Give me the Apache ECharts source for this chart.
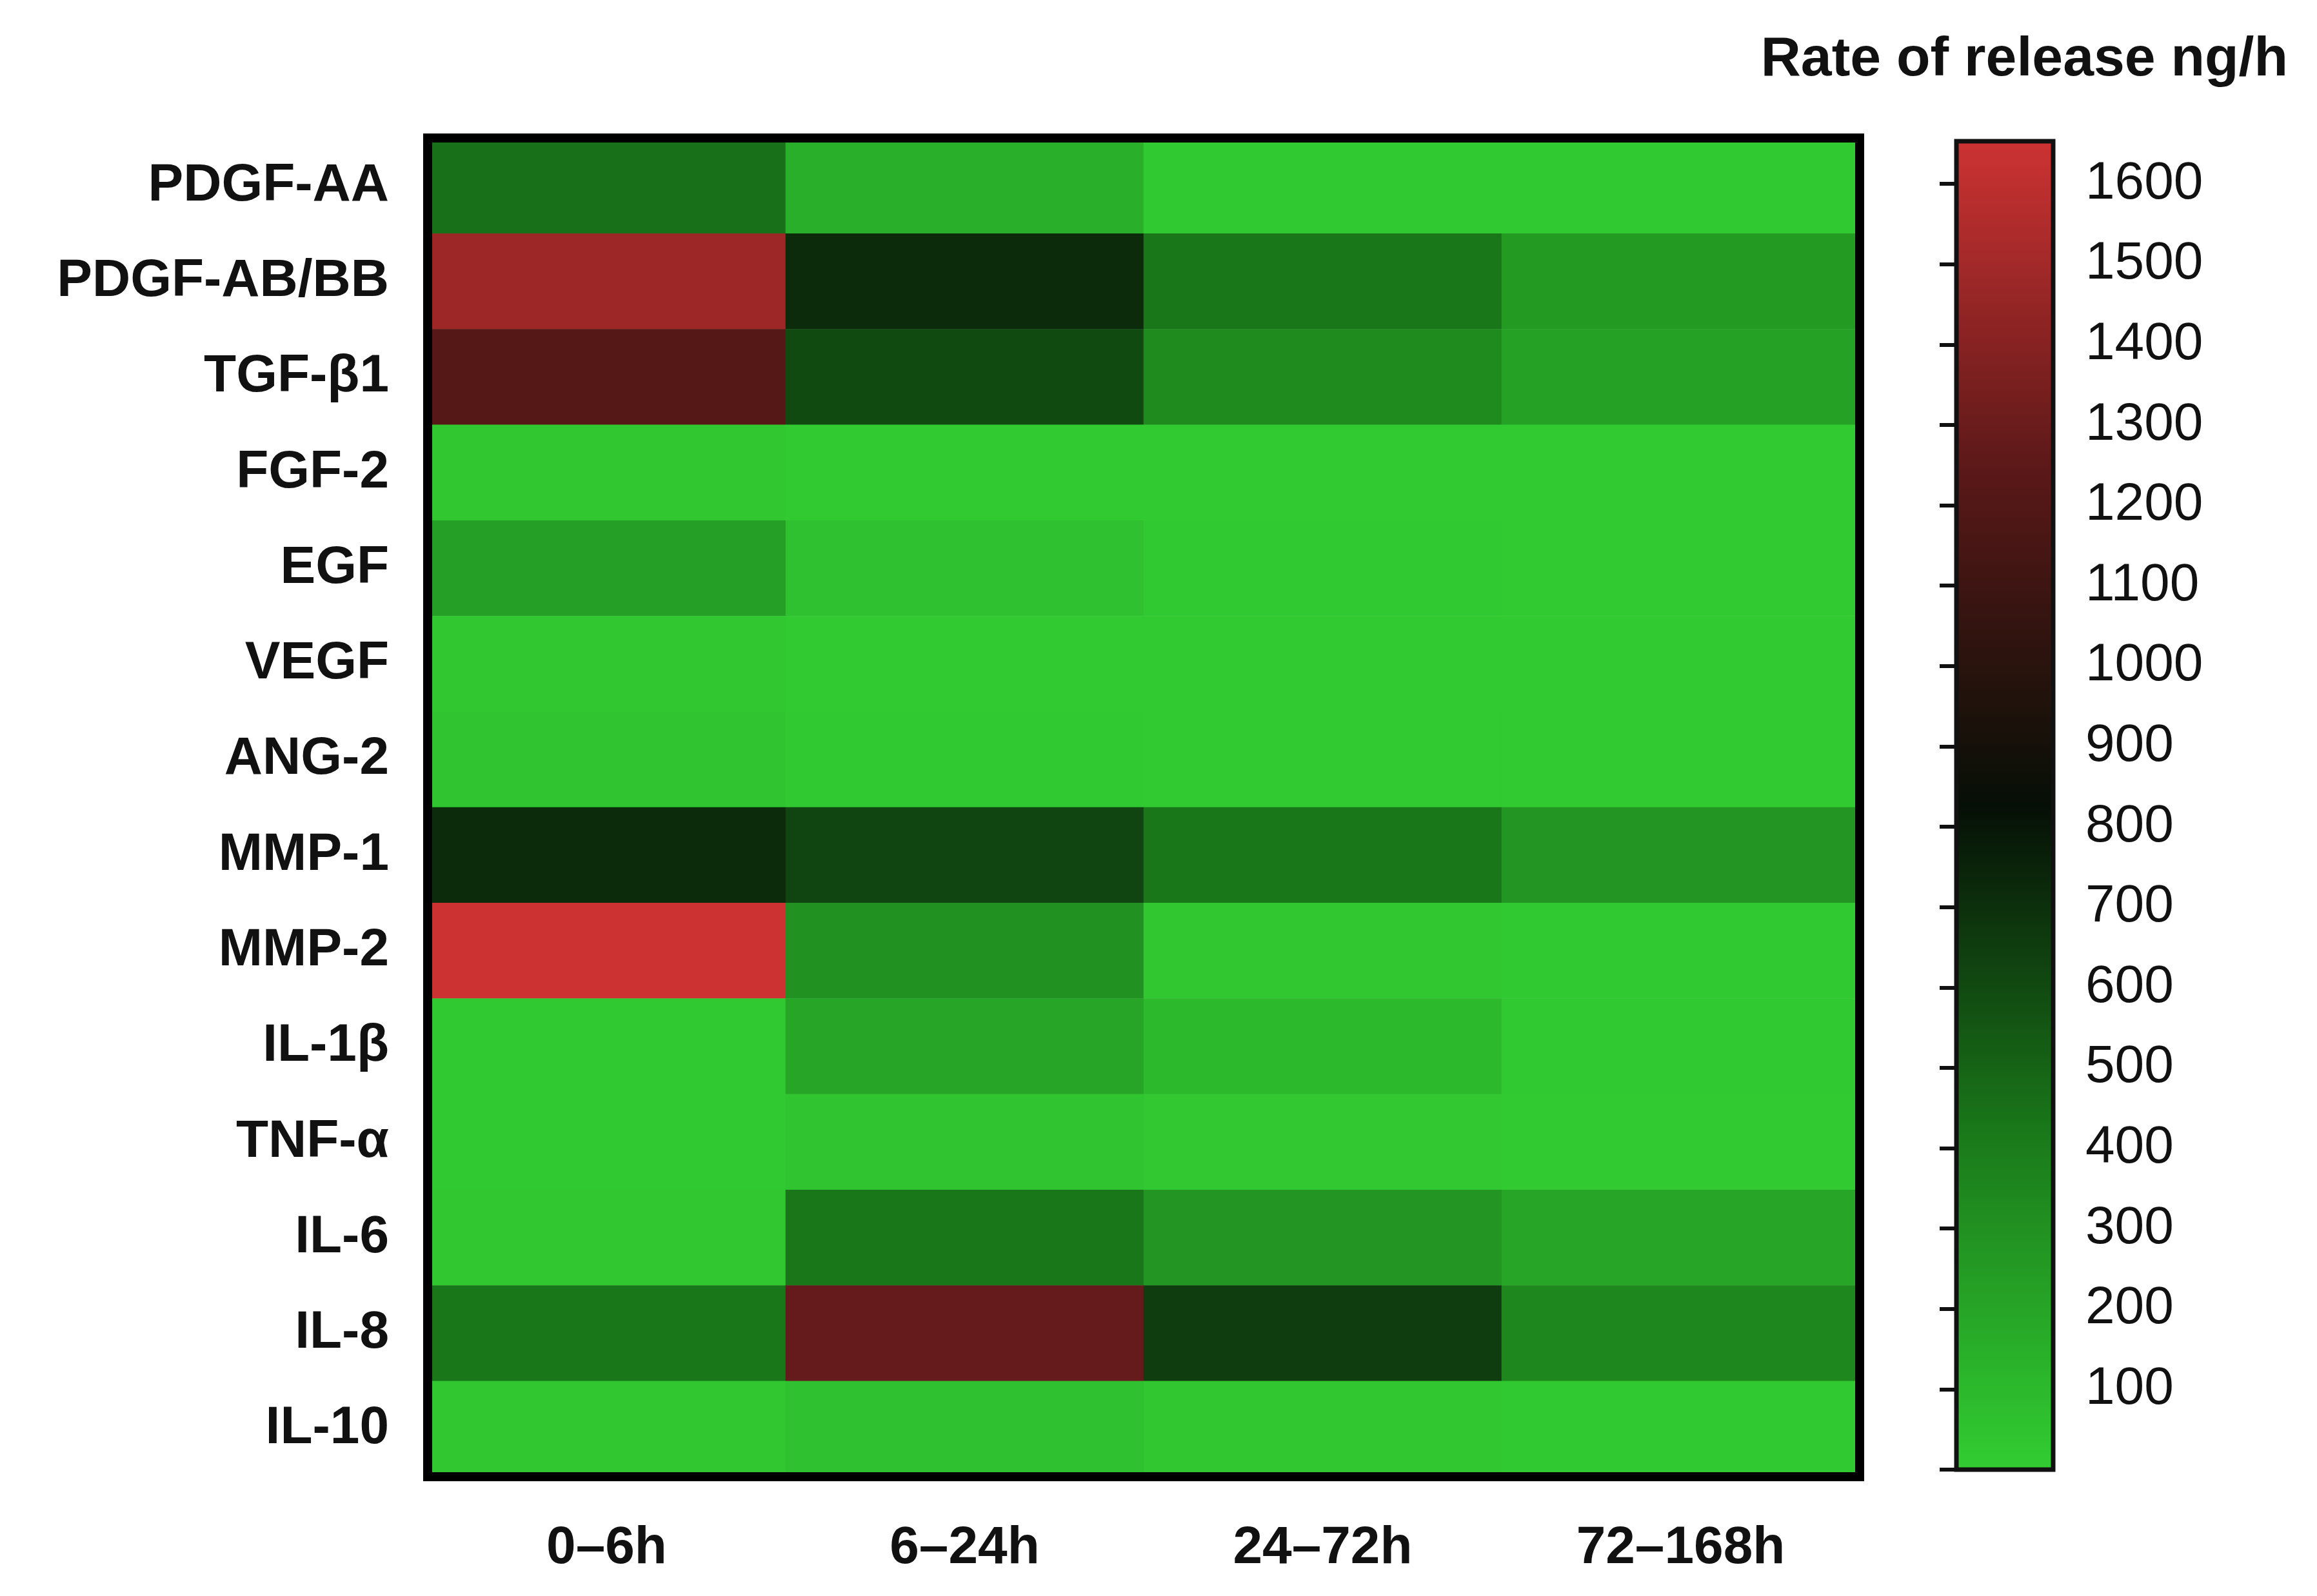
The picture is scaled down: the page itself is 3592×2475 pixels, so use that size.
<!DOCTYPE html>
<html><head><meta charset="utf-8">
<script src="https://cdn.jsdelivr.net/npm/echarts@6/dist/echarts.min.js"></script>
<style>html,body{margin:0;background:#fff}#c{width:3592px;height:2475px}</style>
</head><body><div id="c"></div>
<script>
var periods = ['0–6h', '6–24h', '24–72h', '72–168h'];
var proteins = ['PDGF-AA', 'PDGF-AB/BB', 'TGF-β1', 'FGF-2', 'EGF', 'VEGF', 'ANG-2',
  'MMP-1', 'MMP-2', 'IL-1β', 'TNF-α', 'IL-6', 'IL-8', 'IL-10'];
// rate of release (ng/h), one row per protein, columns follow periods
var rates = [
  [450, 150, 20, 20],
  [1480, 720, 430, 250],
  [1220, 600, 330, 220],
  [30, 10, 10, 10],
  [230, 60, 20, 15],
  [30, 15, 10, 10],
  [40, 20, 15, 10],
  [720, 620, 430, 280],
  [1650, 300, 30, 20],
  [20, 200, 100, 20],
  [20, 40, 25, 15],
  [30, 430, 280, 200],
  [430, 1280, 650, 350],
  [30, 60, 30, 20]
];
var scaleMax = 1653;

var cells = [];
rates.forEach(function(row, i) {
  row.forEach(function(v, j) { cells.push([j, i, v]); });
});

var chart = echarts.init(document.getElementById('c'));
var font = 'Liberation Sans, Arial, sans-serif';
chart.setOption({
  backgroundColor: '#fff',
  animation: false,
  title: {
    text: 'Rate of release ng/h', right: 40, top: 45,
    textStyle: { fontFamily: font, fontWeight: 'bold', fontSize: 86, color: '#111' }
  },
  grid: [
    { left: 663, width: 2220, top: 214, height: 2076, show: true, borderColor: '#000', borderWidth: 14, z: 10 },
    { left: 3033, width: 150, top: 219, height: 2060, show: true, borderColor: '#111', borderWidth: 7, z: 10 }
  ],
  xAxis: [
    { type: 'category', data: periods, gridIndex: 0, position: 'bottom',
      axisLine: { show: false }, axisTick: { show: false }, splitLine: { show: false },
      axisLabel: { fontFamily: font, fontWeight: 'bold', fontSize: 82, color: '#111', margin: 70 } },
    { type: 'value', gridIndex: 1, show: false, min: 0, max: 1 }
  ],
  yAxis: [
    { type: 'category', data: proteins, inverse: true, gridIndex: 0,
      axisLine: { show: false }, axisTick: { show: false }, splitLine: { show: false },
      axisLabel: { fontFamily: font, fontWeight: 'bold', fontSize: 82, color: '#111', margin: 60 } },
    { type: 'value', gridIndex: 1, position: 'right', min: 0, max: scaleMax, interval: 100, z: 20,
      axisLine: { show: false }, splitLine: { show: false },
      axisTick: { show: true, inside: true, length: 26, lineStyle: { color: '#111', width: 6 } },
      axisLabel: { fontFamily: font, fontSize: 82, color: '#111', margin: 50,
        formatter: function(v) { return v === 0 ? '' : v; } } }
  ],
  visualMap: {
    type: 'continuous', min: 0, max: scaleMax, seriesIndex: 0, z: 1,
    calculable: false, show: true, left: 3033, top: 219, padding: 0,
    itemWidth: 150, itemHeight: 2060, text: ['', ''], showLabel: false,
    inRange: { color: ['#32cd32', '#1a7a1a', '#060f06', '#5a1818', '#cd3232'] }
  },
  series: [{
    type: 'heatmap', xAxisIndex: 0, yAxisIndex: 0, data: cells,
    label: { show: false }
  }]
});
</script></body></html>
